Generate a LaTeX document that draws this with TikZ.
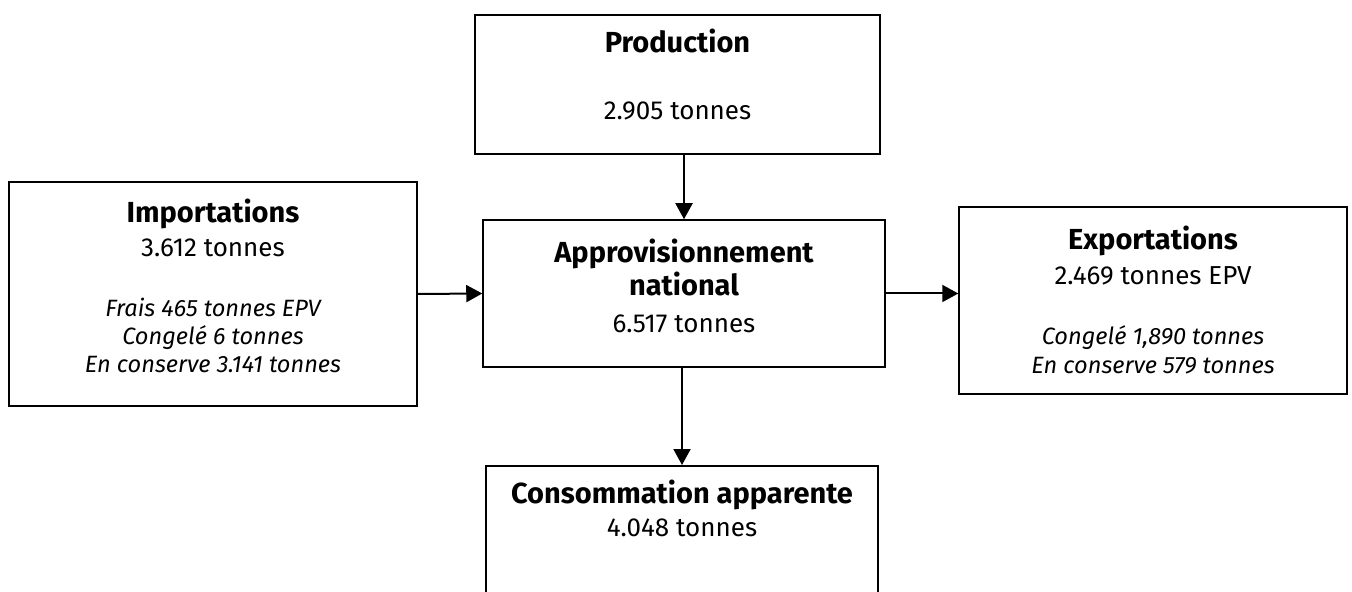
\documentclass[tikz,border=0pt]{standalone}
\usepackage{fontspec}
\setmainfont{Fira Sans}
\usetikzlibrary{arrows.meta}
\newcommand{\titre}[1]{{\fontsize{14.5}{16}\bfseries #1}}
\newcommand{\detail}[1]{{\fontsize{11.8}{14}\itshape #1}}
\tikzset{
    boite/.style={draw, line width=0.75pt, align=center, inner sep=0pt,
        font=\fontsize{13}{14.5}\selectfont},
    fleche/.style={line width=1pt, -{Triangle[length=8pt,width=8.5pt]}}
}
\begin{document}
\begin{tikzpicture}[x=0.5pt,y=-0.5pt]
                \useasboundingbox (0,0) rectangle (1352,592);
                \clip (0,0) rectangle (1352,592);
                % production
                \node[boite, minimum width=202.5pt, minimum height=69.5pt] (prod) at (677.5,84.5)
                    {\titre{Production}\\[19pt]2.905 tonnes\\[-4pt]\mbox{}};
                % importations
                \node[boite, minimum width=204pt, minimum height=112pt] (imp) at (213,294)
                    {\titre{Importations}\\[2.5pt]3.612 tonnes\\[15.5pt]
                     \detail{Frais 465 tonnes EPV}\\[-0.5pt]\detail{Congelé 6 tonnes}\\[-0.5pt]\detail{En conserve 3.141 tonnes}\\[-6.5pt]\mbox{}};
                % approvisionnement
                \node[boite, minimum width=201pt, minimum height=73.5pt] (appro) at (684,293.5)
                    {\titre{Approvisionnement}\\[0.5pt]\titre{national}\\[4pt]6.517 tonnes\\[-6.5pt]\mbox{}};
                % exportations
                \node[boite, minimum width=194pt, minimum height=93.5pt] (exp) at (1153,300.5)
                    {\titre{Exportations}\\[3pt]2.469 tonnes EPV\\[15.5pt]
                     \detail{Congelé 1,890 tonnes}\\\detail{En conserve 579 tonnes}};
                % consommation
                \node[boite, minimum width=196pt, minimum height=78pt, anchor=north] (conso) at (682,465)
                    {\titre{Consommation apparente}\\[2pt]4.048 tonnes\\[21pt]\mbox{}};
                % fleches
                \draw[fleche] (appro.north |- prod.south) -- (appro.north);
                \draw[fleche] (imp.east) -- (appro.west);
                \draw[fleche] (appro.east) -- (exp.west |- appro.east);
                \draw[fleche] (appro.south -| conso.north) -- (conso.north);
\end{tikzpicture}
\end{document}
